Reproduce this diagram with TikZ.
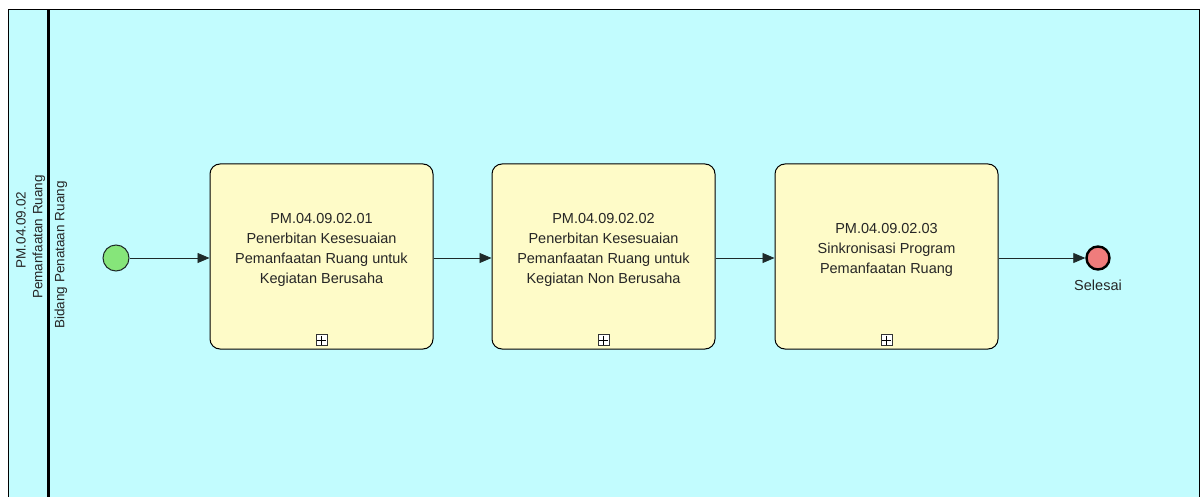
\documentclass[tikz,border=0pt]{standalone}
\usepackage{fontspec}
\setmainfont{Liberation Sans}
\usetikzlibrary{arrows.meta,calc}
\definecolor{lanebg}{HTML}{C2FCFE}
\definecolor{taskfill}{HTML}{FEFBC8}
\definecolor{startfill}{HTML}{86E57A}
\definecolor{endfill}{HTML}{F07C7C}
\definecolor{linec}{HTML}{1E2A2A}
\tikzset{
  taskbox/.style={draw=black, line width=1pt, fill=taskfill, rounded corners=10pt, minimum width=223pt, minimum height=185pt, inner sep=0pt},
  tasktext/.style={align=center, font=\fontsize{14.5}{20}\selectfont, text=black!85},
  flow/.style={draw=linec, line width=0.8pt, -{Triangle[length=12pt,width=10pt]}},
  lbl/.style={font=\fontsize{14.5}{16}\selectfont, text=black!85},
  sidelbl/.style={font=\fontsize{13.5}{16}\selectfont, text=black!85, rotate=90},
  plusbox/.style={draw=black!80, fill=white, line width=0.7pt, minimum size=11pt, inner sep=0pt}
}
\begin{document}
\begin{tikzpicture}[x=1pt,y=-1pt]
\useasboundingbox (0,0) rectangle (1201,497);
\fill[white] (0,0) rectangle (1201,497);
\fill[lanebg] (8,10) rectangle (1199,505);
\draw[line width=1pt] (8,505) -- (8,10) -- (1199,10) -- (1199,505);
\draw[line width=2.4pt] (48.5,10) -- (48.5,505);
\node[sidelbl] (pool1) at (21,230) {PM.04.09.02};
\node[sidelbl] (pool2) at (39,237) {Pemanfaatan Ruang};
\node[sidelbl] (lane) at (61,255) {Bidang Penataan Ruang};

\node[circle, draw=linec, line width=1pt, fill=startfill, minimum size=26pt, inner sep=0pt] (start) at (116,258) {};
\node[taskbox] (t1) at (321.5,256.5) {};
\node[taskbox] (t2) at (603.5,256.5) {};
\node[taskbox] (t3) at (886.5,256.5) {};
\node[tasktext] (t1txt) at (321.5,250) {PM.04.09.02.01\\Penerbitan Kesesuaian\\Pemanfaatan Ruang untuk\\Kegiatan Berusaha};
\node[tasktext] (t2txt) at (603.5,250) {PM.04.09.02.02\\Penerbitan Kesesuaian\\Pemanfaatan Ruang untuk\\Kegiatan Non Berusaha};
\node[tasktext] (t3txt) at (886.5,250) {PM.04.09.02.03\\Sinkronisasi Program\\Pemanfaatan Ruang};
\foreach \t/\x in {1/321.5,2/603.5,3/886.5}{
  \node[plusbox] (p\t) at (\x,340) {};
  \draw[line width=0.8pt] ($(p\t.center)+(-4.5,0)$) -- ($(p\t.center)+(4.5,0)$);
  \draw[line width=0.8pt] ($(p\t.center)+(0,-4.5)$) -- ($(p\t.center)+(0,4.5)$);
}
\node[circle, draw=black, line width=2.4pt, fill=endfill, minimum size=23pt, inner sep=0pt] (end) at (1098,258) {};
\node[lbl] (endlbl) at (1098,285) {Selesai};

\draw[flow] (start) -- (t1.west |- start);
\draw[flow] (t1.east |- start) -- (t2.west |- start);
\draw[flow] (t2.east |- start) -- (t3.west |- start);
\draw[flow] (t3.east |- start) -- (end);
\end{tikzpicture}
\end{document}
